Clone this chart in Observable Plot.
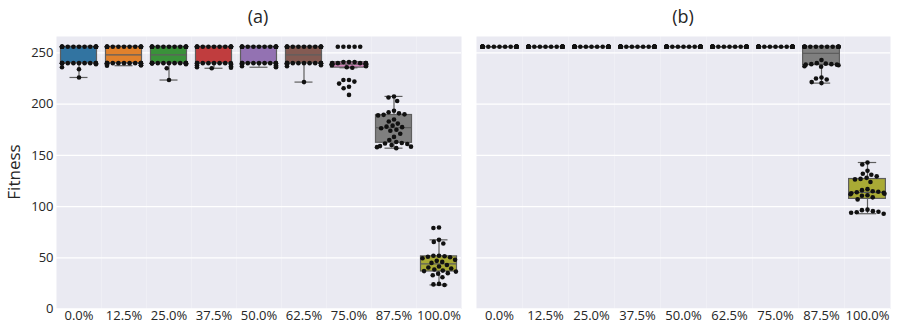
<!DOCTYPE html>
<html><head><meta charset="utf-8">
<script src="https://cdn.jsdelivr.net/npm/d3@7"></script>
<script src="https://cdn.jsdelivr.net/npm/@observablehq/plot@0.6"></script>
<style>
body{margin:0;background:#fff;}
#wrap{position:relative;width:897px;height:324px;font-family:"Open Sans";color:#262626;overflow:hidden}
#pa{position:absolute;left:0;top:0}
#pb{position:absolute;left:476px;top:0}
.title{position:absolute;top:4px;font-size:18px;transform:translateX(-50%);white-space:nowrap}
#ylab{position:absolute;left:13px;top:172px;font-size:17px;transform:translate(-50%,-50%) rotate(-90deg);white-space:nowrap}
</style></head><body>
<div id="wrap">
  <div id="pa"></div><div id="pb"></div>
  <div class="title" style="left:258px">(a)</div>
  <div class="title" style="left:683px">(b)</div>
  <div id="ylab">Fitness</div>
</div>
<script>
const categories = ["0.0%","12.5%","25.0%","37.5%","50.0%","62.5%","75.0%","87.5%","100.0%"];
const yTicks = [0, 50, 100, 150, 200, 250];
const boxColors = ["#3274a1","#e1812c","#3a923a","#c03d3e","#9372b2","#845b53","#d684bd","#7f7f7f","#a9aa35"];

// Panel (a)
const a0   = [256,256,256,256,256,256,256,256,256,256,256,256,256,256,256,256,240,240,240,240,240,240,240,240,240,240,239,236,234,226];
const a125 = [256,256,256,256,256,256,256,256,256,256,256,256,256,256,256,240,240,240,240,240,240,240,240,240,240,240,239,238,238,237.5];
const a250 = [256,256,256,256,256,256,256,256,256,256,256,256,256,256,256,240,240,240,240,240,240,240,240,240,240,240,240,239,235,223.5];
const a375 = [256,256,256,256,256,256,256,256,256,256,256,256,256,256,256,256,240,240,240,240,240,240,240,240,239,238,237,236,235.5,235];
const a500 = [256,256,256,256,256,256,256,256,256,256,256,256,256,256,256,256,240,240,240,240,240,240,240,240,240,239,238,237,236.5,236];
const a625 = [256,256,256,256,256,256,256,256,256,256,256,256,256,256,256,240,240,240,240,240,240,240,240,240,240,240,239,238,237,221.5];
const a750 = [256,256,256,256,256,241,241,241,240,240,240,240,240,239,239,239,239,239,238,237.5,237,236,235.5,223.5,223.5,222,220,217,215.5,209];
const a875 = [207.5,206.5,203,193.5,192,191,190,189.5,189,185,183,181,179,178,177.5,176.5,175,174,171,168,165,163,162,161.5,161,160,159,158.5,158,157];
const a1000 = [79.5,79,67.5,65.5,64,52,52,51.5,51,50.5,49.5,48,47,46,45,43,41.5,40.5,39.5,38.5,37.5,37,36.5,35,34.5,33,31,24.5,24,23.5];

// Panel (b)
const b0   = [256,256,256,256,256,256,256,256,256,256,256,256,256,256,256,256,256,256,256,256,256,256,256,256,256,256,256,256,256,256];
const b125 = [256,256,256,256,256,256,256,256,256,256,256,256,256,256,256,256,256,256,256,256,256,256,256,256,256,256,256,256,256,256];
const b250 = [256,256,256,256,256,256,256,256,256,256,256,256,256,256,256,256,256,256,256,256,256,256,256,256,256,256,256,256,256,256];
const b375 = [256,256,256,256,256,256,256,256,256,256,256,256,256,256,256,256,256,256,256,256,256,256,256,256,256,256,256,256,256,256];
const b500 = [256,256,256,256,256,256,256,256,256,256,256,256,256,256,256,256,256,256,256,256,256,256,256,256,256,256,256,256,256,256];
const b625 = [256,256,256,256,256,256,256,256,256,256,256,256,256,256,256,256,256,256,256,256,256,256,256,256,256,256,256,256,256,256];
const b750 = [256,256,256,256,256,256,256,256,256,256,256,256,256,256,256,256,256,256,256,256,256,256,256,256,256,256,256,256,256,256];
const b875 = [256,256,256,256,256,256,256,256,256,256,256,256,256,256,256,243,240,239.5,239,239,238.5,238.5,238,237,236.5,226,225,224,221.5,220.5];
const b1000 = [143,141,135,132,131,129.5,128,127,126.5,124,117,116,115,114.5,114,113.5,113,112.5,112,111,110.5,109,107,97,96.5,95.5,95,94.5,94,93];

const lineColor = "#5e5e5e";

function boxStats(arr, i) {
  const s = arr.slice().sort(d3.ascending);
  const q1 = d3.quantile(s, 0.25), med = d3.quantile(s, 0.5), q3 = d3.quantile(s, 0.75);
  const iqr = q3 - q1;
  const lo = d3.min(s.filter(v => v >= q1 - 1.5 * iqr));
  const hi = d3.max(s.filter(v => v <= q3 + 1.5 * iqr));
  return {cat: categories[i], q1, med, q3, lo, hi, color: boxColors[i]};
}

function clampX(limit) {
  return function (data, facets, channels, scales, dimensions) {
    const {width, marginLeft, marginRight} = dimensions;
    const cx = (marginLeft + width - marginRight) / 2;
    const X = Float64Array.from(channels.x.value, x => Math.max(cx - limit, Math.min(cx + limit, x)));
    return {data, facets, channels: {x: {value: X}}};
  };
}

function panel(arrays, {yAxis, width, marginLeft, marginRight}) {
  const rows = [];
  arrays.forEach((arr, i) => arr.forEach(v => rows.push({cat: categories[i], value: v})));
  const stats = arrays.map(boxStats);
  return Plot.plot({
    width, height: 324, marginTop: 36, marginBottom: 15.5, marginLeft, marginRight,
    style: {fontFamily: "Open Sans", fontSize: "13px", color: "#262626", background: "transparent"},
    fx: {domain: categories, padding: 0, label: null, tickSize: 0, tickPadding: 1.5, axis: "bottom"},
    x: {domain: [-0.5, 0.5], axis: null},
    y: {domain: [0, 266], ticks: yTicks, tickSize: 0, tickPadding: 3, label: null, axis: yAxis ? "left" : null},
    color: {type: "identity"},
    marks: [
      Plot.frame({fill: "#eaeaf2", stroke: null}),
      Plot.ruleY(yTicks, {stroke: "white", strokeWidth: 1.3}),
      Plot.ruleX(stats, {fx: "cat", x: 0, y1: "q3", y2: "hi", stroke: lineColor, strokeWidth: 1.2}),
      Plot.ruleX(stats, {fx: "cat", x: 0, y1: "lo", y2: "q1", stroke: lineColor, strokeWidth: 1.2}),
      Plot.ruleY(stats, {fx: "cat", y: "hi", x1: -0.2, x2: 0.2, stroke: lineColor, strokeWidth: 1.2}),
      Plot.ruleY(stats, {fx: "cat", y: "lo", x1: -0.2, x2: 0.2, stroke: lineColor, strokeWidth: 1.2}),
      Plot.rect(stats, {fx: "cat", x1: -0.4, x2: 0.4, y1: "q1", y2: "q3", fill: "color", stroke: lineColor, strokeWidth: 1.2}),
      Plot.ruleY(stats, {fx: "cat", y: "med", x1: -0.4, x2: 0.4, stroke: lineColor, strokeWidth: 1.2}),
      Plot.dot(rows, Plot.initializer(
        Plot.dodgeX("middle", {fx: "cat", y: "value", r: 2.3, padding: 0, fill: "#111"}),
        clampX(17)))
    ]
  });
}

document.getElementById("pa").append(panel([a0,a125,a250,a375,a500,a625,a750,a875,a1000], {yAxis: true, width: 465, marginLeft: 52, marginRight: 0}));
document.getElementById("pb").append(panel([b0,b125,b250,b375,b500,b625,b750,b875,b1000], {yAxis: false, width: 421, marginLeft: 0, marginRight: 7}));
</script>
</body></html>
